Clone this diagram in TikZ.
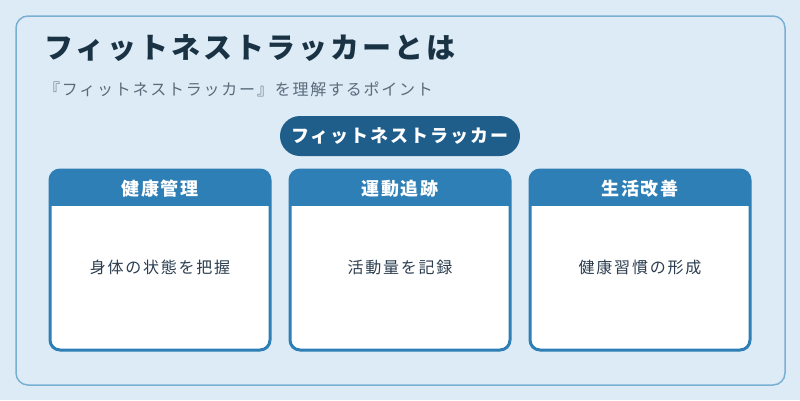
\documentclass[tikz,border=0pt]{standalone}
\usepackage{fontspec}
\setmainfont{Noto Sans CJK JP}
\definecolor{bgblue}{HTML}{DDEBF6}
\definecolor{framecol}{HTML}{7AAFD4}
\definecolor{titlecol}{HTML}{1A3344}
\definecolor{subcol}{HTML}{5A6B7B}
\definecolor{pillcol}{HTML}{1F5E8A}
\definecolor{cardcol}{HTML}{2E7FB5}
\definecolor{textcol}{HTML}{2C3E50}
\begin{document}
\begin{tikzpicture}[x=1pt,y=-1pt,
    title/.style={anchor=west, inner sep=0pt, text=titlecol,
      font=\fontsize{29}{32}\selectfont\bfseries\addfontfeature{LetterSpace=10}},
    subtitle/.style={anchor=west, inner sep=0pt, text=subcol,
      font=\fontsize{16}{18}\selectfont\addfontfeature{LetterSpace=11}},
    pill/.style={fill=pillcol, text=white, rounded corners=20pt,
      minimum width=240pt, minimum height=40pt, inner sep=0pt,
      font=\fontsize{18}{20}\selectfont\bfseries\addfontfeature{LetterSpace=11}},
    headtext/.style={text=white, inner sep=0pt,
      font=\fontsize{18}{20}\selectfont\bfseries\addfontfeature{LetterSpace=10}},
    bodytext/.style={text=textcol, inner sep=0pt,
      font=\fontsize{16}{18}\selectfont\addfontfeature{LetterSpace=11}}]
  \useasboundingbox (0,0) rectangle (800,400);
  \fill[bgblue] (0,0) rectangle (800,400);
  \draw[framecol, line width=1.5pt, rounded corners=12pt] (16,16) rectangle (785,385);

  \node[title] (head) at (44,48) {フィットネストラッカーとは};
  \node[subtitle] (sub) at (44,89) {『フィットネストラッカー』を理解するポイント};
  \node[pill] (tracker) at (400,136) {フィットネストラッカー};

  % three cards
  \foreach \x/\name/\lbl/\txt in {50/health/健康管理/身体の状態を把握,
                                  290/motion/運動追跡/活動量を記録,
                                  530/life/生活改善/健康習慣の形成} {
    \fill[white, rounded corners=10pt] (\x,170) rectangle (\x+220,350);
    \begin{scope}
      \clip[rounded corners=10pt] (\x,170) rectangle (\x+220,350);
      \fill[cardcol] (\x,170) rectangle (\x+220,206);
    \end{scope}
    \draw[cardcol, line width=3pt, rounded corners=10pt] (\x,170) rectangle (\x+220,350);
    \node[headtext] (\name-head) at (\x+110,189) {\lbl};
    \node[bodytext] (\name-body) at (\x+110,267) {\txt};
  }
\end{tikzpicture}
\end{document}
